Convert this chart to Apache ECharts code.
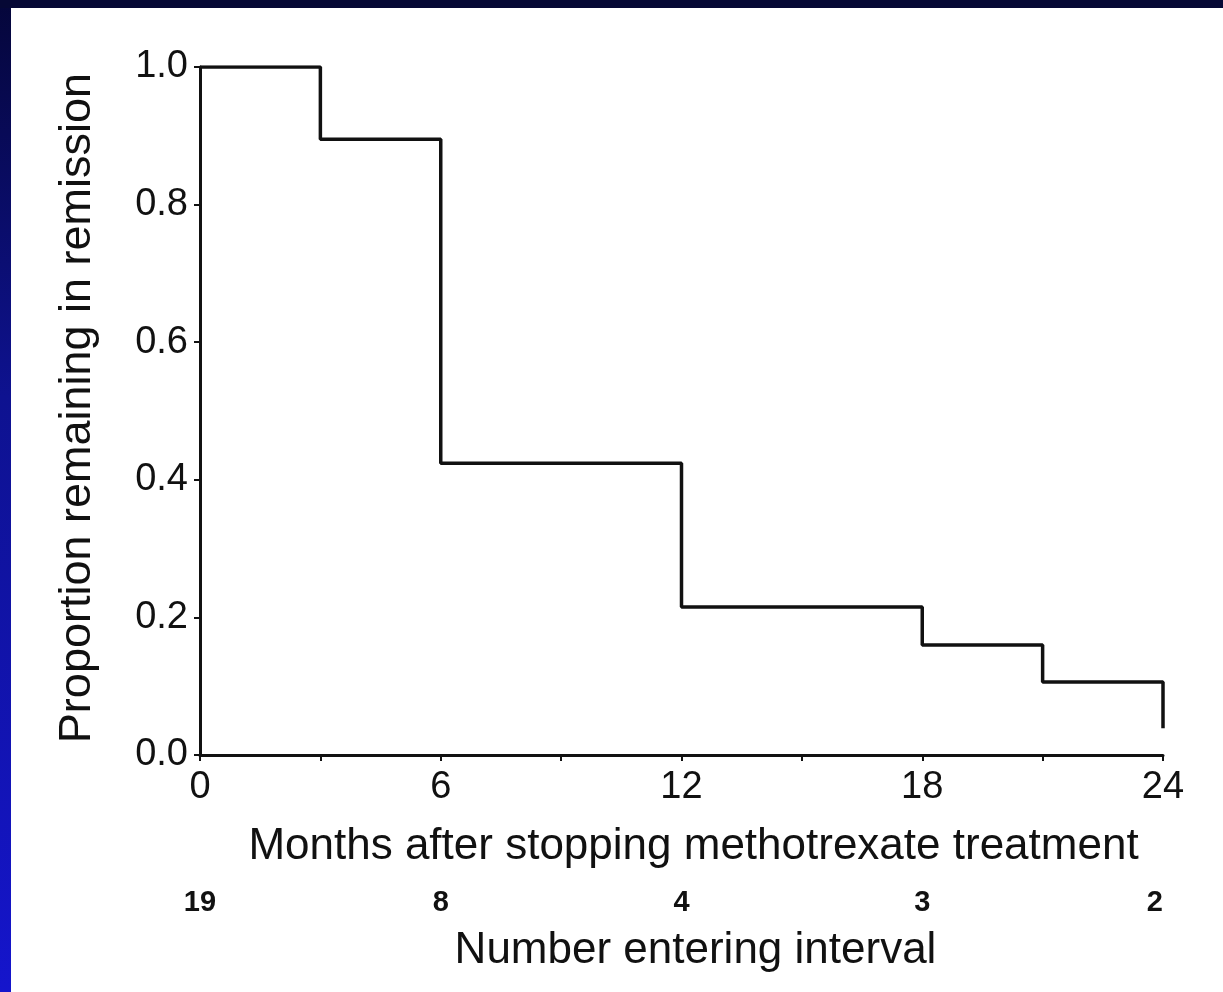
<!DOCTYPE html>
<html>
<head>
<meta charset="utf-8">
<script src="https://cdn.jsdelivr.net/npm/echarts@6/dist/echarts.min.js"></script>
<style>
  html, body { margin: 0; padding: 0; }
  body { width: 1223px; height: 992px; position: relative; overflow: hidden;
         background: linear-gradient(to bottom, #05063a 0%, #0e1290 40%, #1515cc 100%); }
  #top { position: absolute; left: 0; top: 0; width: 1223px; height: 8px; background: #060835; }
  #panel { position: absolute; left: 11px; top: 8px; width: 1212px; height: 984px; background: #ffffff; }
  #chart { position: absolute; left: 0; top: 0; width: 1223px; height: 992px; }
</style>
</head>
<body>
<div id="top"></div>
<div id="panel"></div>
<div id="chart"></div>
<script>
// Kaplan-Meier style step data (months, proportion remaining in remission)
const months = [0, 3, 6, 12, 18, 21, 24, 24];
const proportion = [1.0, 0.895, 0.424, 0.215, 0.16, 0.106, 0.106, 0.039];
// Numbers entering interval, at these months
const atRiskMonths = [0, 6, 12, 18, 24];
const atRiskCounts = [19, 8, 4, 3, 2];
const yTickLabels = ['0.0', '0.2', '0.4', '0.6', '0.8', '1.0'];

const font = 'Liberation Sans, Arial, Helvetica, sans-serif';
const ink = '#111111';

const seriesData = months.map((m, i) => [m, proportion[i]]);

const chart = echarts.init(document.getElementById('chart'), null, { renderer: 'canvas' });
chart.setOption({
  backgroundColor: 'transparent',
  animation: false,
  grid: { left: 200, right: 60, top: 67, bottom: 237, containLabel: false },
  xAxis: [
    {
      type: 'value', min: 0, max: 24, interval: 3, position: 'bottom',
      name: 'Months after stopping methotrexate treatment',
      nameLocation: 'middle', nameGap: 70,
      nameTextStyle: { fontFamily: font, fontSize: 44, color: ink, padding: [0, 0, 0, 24] },
      axisLine: { show: true, lineStyle: { color: ink, width: 3 } },
      axisTick: { show: true, length: 6, lineStyle: { color: ink, width: 2 } },
      axisLabel: {
        fontFamily: font, fontSize: 38, color: ink, margin: 14,
        formatter: v => (v % 6 === 0 ? String(v) : '')
      },
      splitLine: { show: false }
    },
    {
      type: 'value', min: 0, max: 24, interval: 6, position: 'bottom', offset: 130,
      name: 'Number entering interval',
      nameLocation: 'middle', nameGap: 44,
      nameTextStyle: { fontFamily: font, fontSize: 44, color: ink, padding: [0, 0, 0, 28] },
      axisLine: { show: false },
      axisTick: { show: false },
      axisLabel: {
        fontFamily: font, fontSize: 29, fontWeight: 'bold', color: ink, margin: 3, alignMaxLabel: 'right',
        formatter: v => {
          const idx = atRiskMonths.indexOf(v);
          return idx >= 0 ? String(atRiskCounts[idx]) : '';
        }
      },
      splitLine: { show: false }
    }
  ],
  yAxis: {
    type: 'value', min: 0, max: 1, interval: 0.2,
    name: 'Proportion remaining in remission',
    nameLocation: 'middle', nameGap: 100,
    nameTextStyle: { fontFamily: font, fontSize: 45, color: ink, padding: [0, 0, 0, 6] },
    axisLine: { show: true, lineStyle: { color: ink, width: 3 } },
    axisTick: { show: true, length: 6, lineStyle: { color: ink, width: 2 } },
    axisLabel: {
      fontFamily: font, fontSize: 38, color: ink, margin: 12,
      formatter: v => yTickLabels[Math.round(v * 5)]
    },
    splitLine: { show: false }
  },
  series: [{
    type: 'line',
    xAxisIndex: 0,
    step: 'end',
    data: seriesData,
    showSymbol: false,
    symbol: 'none',
    lineStyle: { color: ink, width: 3.5 }
  }]
});
</script>
</body>
</html>
